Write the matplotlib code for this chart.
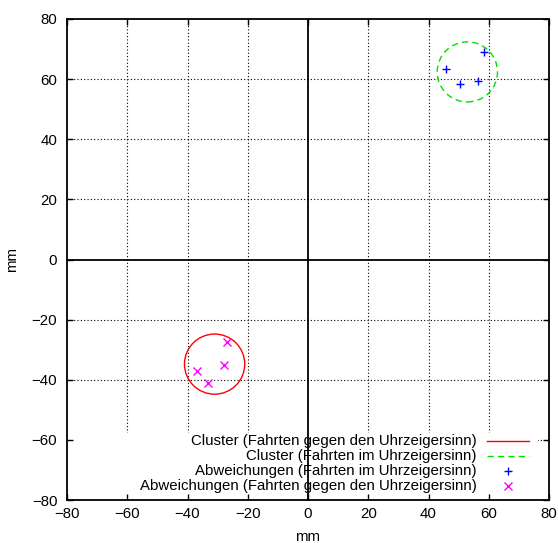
import matplotlib
matplotlib.use("Agg")
import matplotlib.pyplot as plt
from matplotlib.patches import Circle, Rectangle
from matplotlib.lines import Line2D

plt.rcParams['font.family'] = ['Liberation Sans', 'DejaVu Sans']
FS = 10.8
plt.rcParams['font.size'] = FS

# Deviations (clockwise runs)
cw_x = [45.8, 50.5, 56.4, 58.4]
cw_y = [63.4, 58.4, 59.4, 69.0]
# Deviations (counter-clockwise runs)
ccw_x = [-26.8, -27.8, -36.7, -33.1]
ccw_y = [-27.3, -35.1, -37.0, -41.2]
# Cluster circles: centre x, centre y, radius
ccw_cluster = [-31.0, -34.8, 10.0]
cw_cluster = [52.9, 62.4, 10.0]

ticks = [-80, -60, -40, -20, 0, 20, 40, 60, 80]

labels = [
    "Cluster (Fahrten gegen den Uhrzeigersinn)",
    "Cluster (Fahrten im Uhrzeigersinn)",
    "Abweichungen (Fahrten im Uhrzeigersinn)",
    "Abweichungen (Fahrten gegen den Uhrzeigersinn)",
]

RED = "#ff0000"
GREEN = "#00e000"
BLUE = "#0000ff"
MAGENTA = "#ff00ff"

fig = plt.figure(figsize=(5.58, 5.43), dpi=100)
ax = fig.add_axes([67 / 558, 43 / 543, 482 / 558, 481 / 543])
ax.set_xlim(-80, 80)
ax.set_ylim(-80, 80)
ax.set_axisbelow(False)

# dotted grid (drawn by hand so the key box can mask it)
for t in ticks[1:-1]:
    if t == 0:
        continue
    ax.axvline(t, color="black", lw=0.8, ls=(0, (1, 2)), zorder=0.5)
    ax.axhline(t, color="black", lw=0.8, ls=(0, (1, 2)), zorder=0.5)

# key background
ax.add_patch(Rectangle((0, 0), 0.977, 0.139, transform=ax.transAxes,
                       facecolor="white", edgecolor="none", zorder=1))

# zero axes
ax.axhline(0, color="black", lw=1.3, zorder=2)
ax.axvline(0, color="black", lw=1.3, zorder=2)

# clusters
ax.add_patch(Circle((ccw_cluster[0], ccw_cluster[1]), ccw_cluster[2],
                    fill=False, edgecolor=RED, lw=1.0, zorder=3))
ax.add_patch(Circle((cw_cluster[0], cw_cluster[1]), cw_cluster[2],
                    fill=False, edgecolor=GREEN, lw=1.0, ls=(0, (4.5, 3)), zorder=3))

# deviation points
ax.plot(cw_x, cw_y, ls="none", marker="+", ms=6.0, mew=1.0, color=BLUE, zorder=4)
ax.plot(ccw_x, ccw_y, ls="none", marker="x", ms=5.5, mew=1.0, color=MAGENTA, zorder=4)

# key
rows_y = [0.1237, 0.0919, 0.0601, 0.0283]
text_x = 0.8506
sample_x0, sample_x1 = 0.8714, 0.9585
sample_xc = (sample_x0 + sample_x1) / 2
for lab, yy in zip(labels, rows_y):
    ax.text(text_x, yy, lab, transform=ax.transAxes, ha="right", va="center",
            fontsize=FS, zorder=5)
ax.add_line(Line2D([sample_x0, sample_x1], [rows_y[0]] * 2, transform=ax.transAxes,
                   color=RED, lw=1.0, zorder=5))
ax.add_line(Line2D([sample_x0, sample_x1], [rows_y[1]] * 2, transform=ax.transAxes,
                   color=GREEN, lw=1.0, ls=(0, (4.5, 3)), zorder=5))
ax.add_line(Line2D([sample_xc], [rows_y[2]], transform=ax.transAxes, ls="none",
                   marker="+", ms=6.0, mew=1.0, color=BLUE, zorder=5))
ax.add_line(Line2D([sample_xc], [rows_y[3]], transform=ax.transAxes, ls="none",
                   marker="x", ms=5.5, mew=1.0, color=MAGENTA, zorder=5))

ax.set_xticks(ticks)
ax.set_yticks(ticks)
ax.tick_params(direction="in", length=4.5, width=1.0, top=True, right=True,
               labelsize=FS)
ax.tick_params(axis="x", pad=5)
ax.tick_params(axis="y", pad=7)
for s in ax.spines.values():
    s.set_linewidth(1.3)

ax.set_xlabel("mm", fontsize=FS, labelpad=6.5)
ax.set_ylabel("mm", fontsize=FS, labelpad=9)

fig.savefig("out.png", dpi=100)
